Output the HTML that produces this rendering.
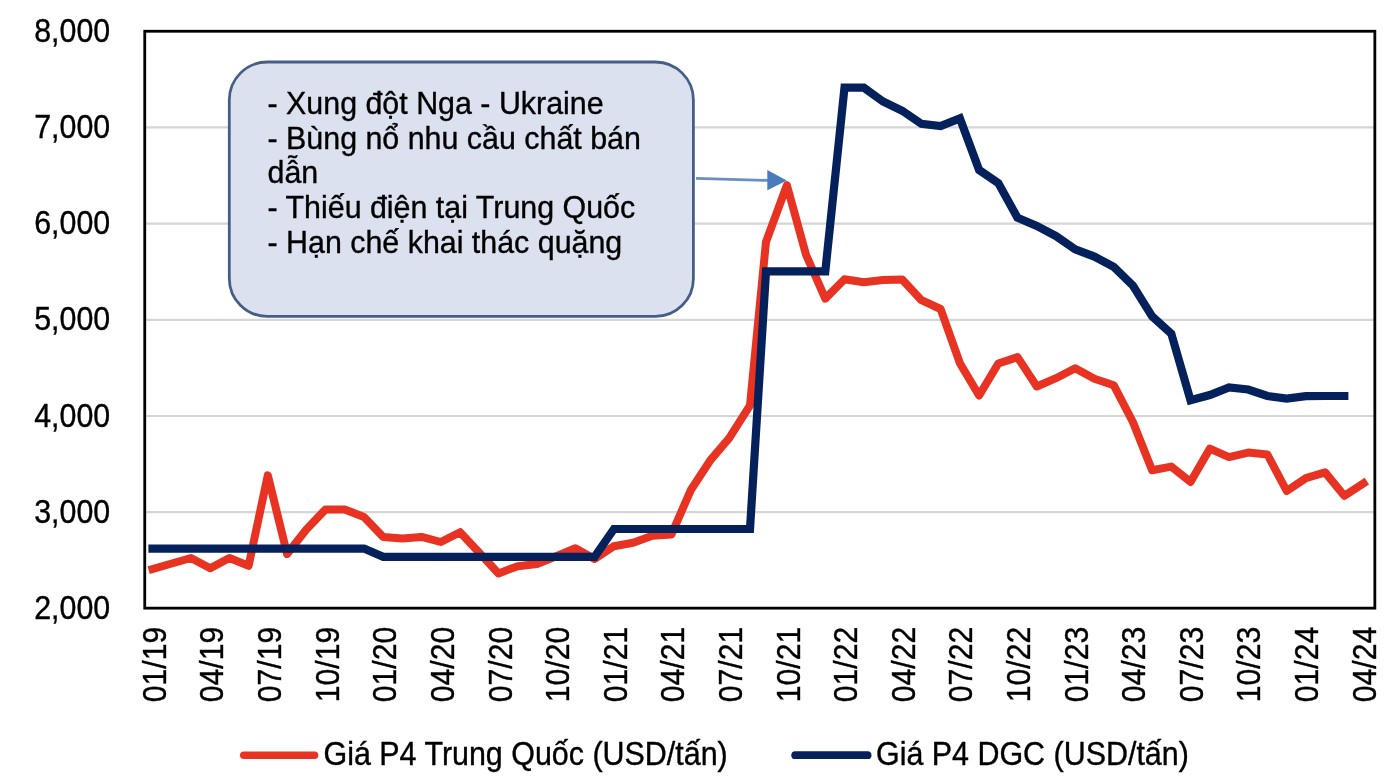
<!DOCTYPE html>
<html lang="vi"><head><meta charset="utf-8"><title>Giá P4</title>
<style>html,body{margin:0;padding:0;background:#fff;width:1400px;height:782px;overflow:hidden}svg{display:block}</style>
</head><body>
<svg width="1400" height="782" viewBox="0 0 1400 782" font-family="'Liberation Sans', Arial, 'Noto Sans CJK SC', sans-serif">
<rect width="1400" height="782" fill="#ffffff"/>
<line x1="145" x2="1374" y1="512.2" y2="512.2" stroke="#d6d6d6" stroke-width="2.2"/>
<line x1="145" x2="1374" y1="416.0" y2="416.0" stroke="#d6d6d6" stroke-width="2.2"/>
<line x1="145" x2="1374" y1="319.8" y2="319.8" stroke="#d6d6d6" stroke-width="2.2"/>
<line x1="145" x2="1374" y1="223.6" y2="223.6" stroke="#d6d6d6" stroke-width="2.2"/>
<line x1="145" x2="1374" y1="127.4" y2="127.4" stroke="#d6d6d6" stroke-width="2.2"/>
<text transform="translate(110.2,618.9) scale(1,1.09)" font-size="30.4" text-anchor="end" fill="#000" stroke="#000" stroke-width="0.35">2,000</text>
<text transform="translate(110.2,522.7) scale(1,1.09)" font-size="30.4" text-anchor="end" fill="#000" stroke="#000" stroke-width="0.35">3,000</text>
<text transform="translate(110.2,426.5) scale(1,1.09)" font-size="30.4" text-anchor="end" fill="#000" stroke="#000" stroke-width="0.35">4,000</text>
<text transform="translate(110.2,330.3) scale(1,1.09)" font-size="30.4" text-anchor="end" fill="#000" stroke="#000" stroke-width="0.35">5,000</text>
<text transform="translate(110.2,234.1) scale(1,1.09)" font-size="30.4" text-anchor="end" fill="#000" stroke="#000" stroke-width="0.35">6,000</text>
<text transform="translate(110.2,137.9) scale(1,1.09)" font-size="30.4" text-anchor="end" fill="#000" stroke="#000" stroke-width="0.35">7,000</text>
<text transform="translate(110.2,41.7) scale(1,1.09)" font-size="30.4" text-anchor="end" fill="#000" stroke="#000" stroke-width="0.35">8,000</text>
<text transform="translate(165.8,626.7) rotate(-90) scale(1,1.09)" font-size="30.2" text-anchor="end" fill="#000" stroke="#000" stroke-width="0.35">01/19</text>
<text transform="translate(223.4,626.7) rotate(-90) scale(1,1.09)" font-size="30.2" text-anchor="end" fill="#000" stroke="#000" stroke-width="0.35">04/19</text>
<text transform="translate(281.0,626.7) rotate(-90) scale(1,1.09)" font-size="30.2" text-anchor="end" fill="#000" stroke="#000" stroke-width="0.35">07/19</text>
<text transform="translate(338.6,626.7) rotate(-90) scale(1,1.09)" font-size="30.2" text-anchor="end" fill="#000" stroke="#000" stroke-width="0.35">10/19</text>
<text transform="translate(396.2,626.7) rotate(-90) scale(1,1.09)" font-size="30.2" text-anchor="end" fill="#000" stroke="#000" stroke-width="0.35">01/20</text>
<text transform="translate(453.8,626.7) rotate(-90) scale(1,1.09)" font-size="30.2" text-anchor="end" fill="#000" stroke="#000" stroke-width="0.35">04/20</text>
<text transform="translate(511.5,626.7) rotate(-90) scale(1,1.09)" font-size="30.2" text-anchor="end" fill="#000" stroke="#000" stroke-width="0.35">07/20</text>
<text transform="translate(569.1,626.7) rotate(-90) scale(1,1.09)" font-size="30.2" text-anchor="end" fill="#000" stroke="#000" stroke-width="0.35">10/20</text>
<text transform="translate(626.7,626.7) rotate(-90) scale(1,1.09)" font-size="30.2" text-anchor="end" fill="#000" stroke="#000" stroke-width="0.35">01/21</text>
<text transform="translate(684.3,626.7) rotate(-90) scale(1,1.09)" font-size="30.2" text-anchor="end" fill="#000" stroke="#000" stroke-width="0.35">04/21</text>
<text transform="translate(741.9,626.7) rotate(-90) scale(1,1.09)" font-size="30.2" text-anchor="end" fill="#000" stroke="#000" stroke-width="0.35">07/21</text>
<text transform="translate(799.5,626.7) rotate(-90) scale(1,1.09)" font-size="30.2" text-anchor="end" fill="#000" stroke="#000" stroke-width="0.35">10/21</text>
<text transform="translate(857.1,626.7) rotate(-90) scale(1,1.09)" font-size="30.2" text-anchor="end" fill="#000" stroke="#000" stroke-width="0.35">01/22</text>
<text transform="translate(914.7,626.7) rotate(-90) scale(1,1.09)" font-size="30.2" text-anchor="end" fill="#000" stroke="#000" stroke-width="0.35">04/22</text>
<text transform="translate(972.3,626.7) rotate(-90) scale(1,1.09)" font-size="30.2" text-anchor="end" fill="#000" stroke="#000" stroke-width="0.35">07/22</text>
<text transform="translate(1029.9,626.7) rotate(-90) scale(1,1.09)" font-size="30.2" text-anchor="end" fill="#000" stroke="#000" stroke-width="0.35">10/22</text>
<text transform="translate(1087.5,626.7) rotate(-90) scale(1,1.09)" font-size="30.2" text-anchor="end" fill="#000" stroke="#000" stroke-width="0.35">01/23</text>
<text transform="translate(1145.2,626.7) rotate(-90) scale(1,1.09)" font-size="30.2" text-anchor="end" fill="#000" stroke="#000" stroke-width="0.35">04/23</text>
<text transform="translate(1202.8,626.7) rotate(-90) scale(1,1.09)" font-size="30.2" text-anchor="end" fill="#000" stroke="#000" stroke-width="0.35">07/23</text>
<text transform="translate(1260.4,626.7) rotate(-90) scale(1,1.09)" font-size="30.2" text-anchor="end" fill="#000" stroke="#000" stroke-width="0.35">10/23</text>
<text transform="translate(1318.0,626.7) rotate(-90) scale(1,1.09)" font-size="30.2" text-anchor="end" fill="#000" stroke="#000" stroke-width="0.35">01/24</text>
<text transform="translate(1375.6,626.7) rotate(-90) scale(1,1.09)" font-size="30.2" text-anchor="end" fill="#000" stroke="#000" stroke-width="0.35">04/24</text>
<path d="M152.5,569.0 L171.7,563.5 L190.9,558.0 L210.2,568.3 L229.4,558.0 L248.6,565.8 L267.8,475.3 L287.1,554.0 L306.3,529.5 L325.5,509.4 L344.7,509.4 L364.0,516.9 L383.2,536.9 L402.4,538.6 L421.6,536.9 L440.8,542.0 L460.1,532.2 L479.3,552.8 L498.5,573.4 L517.7,566.2 L537.0,564.1 L556.2,556.2 L575.4,548.2 L594.6,559.0 L613.9,546.2 L633.1,542.7 L652.3,535.8 L671.5,534.4 L690.7,490.3 L710.0,460.7 L729.2,438.1 L750.0,405.4 L766.0,241.8 L786.9,185.2 L806.1,255.0 L825.3,298.6 L844.5,279.3 L863.8,282.2 L883.0,280.0 L902.2,279.5 L921.4,300.2 L940.6,309.0 L959.9,363.2 L979.1,395.5 L998.3,363.5 L1017.5,357.1 L1036.8,386.5 L1056.0,378.2 L1075.2,368.3 L1094.4,378.8 L1113.7,385.2 L1132.9,422.0 L1152.1,470.2 L1171.3,466.6 L1190.5,481.9 L1209.8,448.7 L1229.0,457.1 L1248.2,452.6 L1267.4,454.5 L1286.7,491.0 L1305.9,478.2 L1325.1,472.4 L1344.3,495.8 L1363.5,483.3" fill="none" stroke="#e83222" stroke-width="8" stroke-linejoin="round" stroke-linecap="square"/>
<path d="M152.5,548.6 L171.7,548.6 L190.9,548.6 L210.2,548.6 L229.4,548.6 L248.6,548.6 L267.8,548.6 L287.1,548.6 L306.3,548.6 L325.5,548.6 L344.7,548.6 L364.0,548.6 L383.2,556.8 L402.4,556.8 L421.6,556.8 L440.8,556.8 L460.1,556.8 L479.3,556.8 L498.5,556.8 L517.7,556.8 L537.0,556.8 L556.2,556.8 L575.4,556.8 L594.6,556.8 L613.9,529.0 L633.1,529.0 L652.3,529.0 L671.5,529.0 L690.7,529.0 L710.0,529.0 L729.2,529.0 L750.0,529.0 L766.0,271.4 L786.9,271.4 L806.1,271.4 L825.3,271.4 L844.5,87.6 L863.8,87.6 L883.0,101.5 L902.2,110.7 L921.4,123.9 L940.6,126.0 L959.9,118.4 L979.1,170.0 L998.3,183.0 L1017.5,217.7 L1036.8,225.9 L1056.0,236.1 L1075.2,249.4 L1094.4,256.6 L1113.7,266.8 L1132.9,285.5 L1152.1,316.3 L1171.3,333.7 L1190.5,400.2 L1209.8,395.0 L1229.0,387.5 L1248.2,389.5 L1267.4,396.0 L1286.7,398.5 L1305.9,396.1 L1325.1,396.0 L1344.3,396.0" fill="none" stroke="#05215c" stroke-width="8.2" stroke-linejoin="miter" stroke-miterlimit="2" stroke-linecap="square"/>
<rect x="144.75" y="31.25" width="1230.1" height="576.9" fill="none" stroke="#000" stroke-width="2.8"/>
<rect x="229.3" y="62" width="464.1" height="254.4" rx="38" ry="38" fill="#dce1f0" stroke="#465e85" stroke-width="2.8"/>
<text transform="translate(267.5,114.0) scale(1,1.06)" font-size="30.4" fill="#000" stroke="#000" stroke-width="0.35">- Xung đột Nga - Ukraine</text>
<text transform="translate(267.5,148.7) scale(1,1.06)" font-size="30.4" fill="#000" stroke="#000" stroke-width="0.35">- Bùng nổ nhu cầu chất bán</text>
<text transform="translate(267.5,183.4) scale(1,1.06)" font-size="30.4" fill="#000" stroke="#000" stroke-width="0.35">dẫn</text>
<text transform="translate(267.5,218.1) scale(1,1.06)" font-size="30.4" fill="#000" stroke="#000" stroke-width="0.35">- Thiếu điện tại Trung Quốc</text>
<text transform="translate(267.5,252.8) scale(1,1.06)" font-size="30.4" fill="#000" stroke="#000" stroke-width="0.35">- Hạn chế khai thác quặng</text>
<line x1="696" y1="178.4" x2="768" y2="180.4" stroke="#6a8ec4" stroke-width="2.8"/>
<polygon points="767.3,170 786.8,180.6 767.3,190.2" fill="#4a7bba"/>
<line x1="243.8" x2="314.5" y1="755.2" y2="755.2" stroke="#e83222" stroke-width="7.6" stroke-linecap="round"/>
<text transform="translate(323.5,764.8) scale(1,1.09)" font-size="30.45" fill="#000" stroke="#000" stroke-width="0.35">Giá P4 Trung Quốc (USD/tấn)</text>
<line x1="795.2" x2="867.6" y1="755.2" y2="755.2" stroke="#05215c" stroke-width="7.8" stroke-linecap="round"/>
<text transform="translate(876,764.8) scale(1,1.09)" font-size="30.45" fill="#000" stroke="#000" stroke-width="0.35">Giá P4 DGC (USD/tấn)</text>
</svg>
</body></html>
